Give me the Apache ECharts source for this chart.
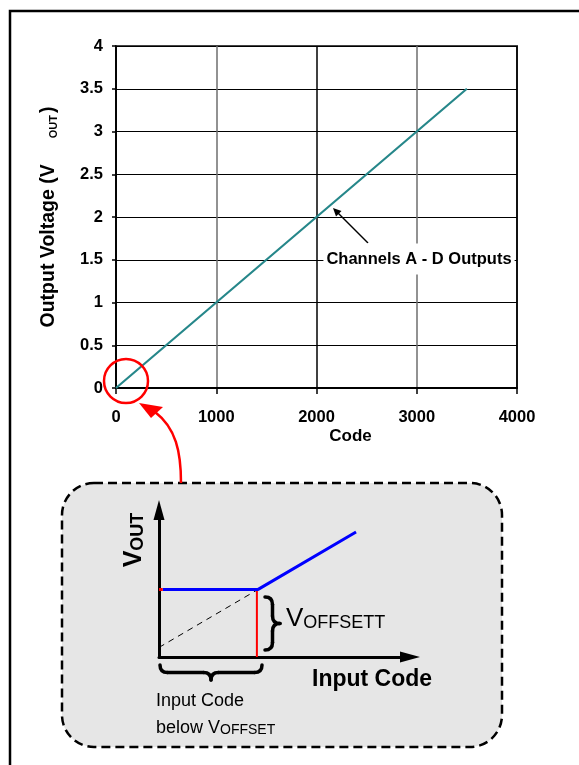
<!DOCTYPE html>
<html>
<head>
<meta charset="utf-8">
<script src="https://cdn.jsdelivr.net/npm/echarts@6/dist/echarts.min.js"></script>
<style>
  html, body { margin: 0; padding: 0; background: #fff; }
  #chart { width: 579px; height: 765px; }
</style>
</head>
<body>
<div id="chart"></div>
<script>
// main chart: DAC output voltage vs code
var codes = [0, 500, 1000, 1500, 2000, 2500, 3000, 3500];
var volts = [0, 0.5, 1.0, 1.5, 2.0, 2.5, 3.0, 3.5];
var codeTicks = [0, 1000, 2000, 3000, 4000];
var voltTicks = [0, 0.5, 1, 1.5, 2, 2.5, 3, 3.5, 4];

// inset sketch (arbitrary units 0..10)
var outX = [0.15, 3.95, 7.85];
var outY = [4.6, 4.6, 8.5];
var idealX = [0, 3.95];
var idealY = [0.65, 4.6];
var offsetX = [3.9, 3.9];
var offsetY = [0, 4.5];
var markX = [0, 0.15];
var markY = [4.6, 4.6];

var FONT = '"Liberation Sans", Arial, sans-serif';

function pairs(xs, ys) {
  return xs.map(function(x, i) { return [x, ys[i]]; });
}

var braceStyle = { fill: 'none', stroke: '#000', lineWidth: 3.5, lineCap: 'round' };

function quad(x1, y1, cx, cy, x2, y2) {
  return { type: 'bezierCurve', silent: true, z: 100,
    shape: { x1: x1, y1: y1, cpx1: cx, cpy1: cy, x2: x2, y2: y2 }, style: braceStyle };
}
function seg(x1, y1, x2, y2) {
  return { type: 'line', silent: true, z: 100,
    shape: { x1: x1, y1: y1, x2: x2, y2: y2 }, style: braceStyle };
}

// curly brace lying flat, tip pointing down
function hBrace(x0, x1, y0, h) {
  var xm = (x0 + x1) / 2, ym = y0 + h / 2, q = h / 2;
  return [
    quad(x0, y0, x0, ym, x0 + q, ym),
    seg(x0 + q, ym, xm - q, ym),
    quad(xm - q, ym, xm, ym, xm, y0 + h),
    quad(xm, y0 + h, xm, ym, xm + q, ym),
    seg(xm + q, ym, x1 - q, ym),
    quad(x1 - q, ym, x1, ym, x1, y0)
  ];
}

// curly brace standing up, tip pointing right
function vBrace(y0, y1, x0, w) {
  var xm = x0 + w / 2, ym = (y0 + y1) / 2, q = w / 2;
  return [
    quad(x0, y0, xm, y0, xm, y0 + q),
    seg(xm, y0 + q, xm, ym - q),
    quad(xm, ym - q, xm, ym, x0 + w, ym),
    quad(x0 + w, ym, xm, ym, xm, ym + q),
    seg(xm, ym + q, xm, y1 - q),
    quad(xm, y1 - q, xm, y1, x0, y1)
  ];
}

var chart = echarts.init(document.getElementById('chart'));

var boldLabel = { color: '#000', fontWeight: 'bold', fontSize: 16.5, fontFamily: FONT,
  formatter: function(v) { return String(v); } };

var graphics = [
  // page frame
  { type: 'rect', silent: true, z: -20, shape: { x: 10, y: 11, width: 600, height: 800 },
    style: { fill: 'none', stroke: '#000', lineWidth: 2.5 } },
  // dashed inset box
  { type: 'rect', silent: true, z: -10, shape: { x: 62, y: 483, width: 440, height: 264, r: 32 },
    style: { fill: '#e6e6e6', stroke: '#000', lineWidth: 2.5, lineDash: [9, 5] } },
  // red circle + curved arrow
  { type: 'circle', silent: true, z: 100, shape: { cx: 126, cy: 381, r: 22 },
    style: { fill: 'none', stroke: '#ff0000', lineWidth: 2.5 } },
  { type: 'bezierCurve', silent: true, z: 100,
    shape: { x1: 181, y1: 483, cpx1: 181, cpy1: 452, cpx2: 176, cpy2: 428, x2: 155, y2: 412 },
    style: { fill: 'none', stroke: '#ff0000', lineWidth: 2.5 } },
  { type: 'polygon', silent: true, z: 100, shape: { points: [[139, 403], [163, 407], [151, 418]] },
    style: { fill: '#ff0000' } },
  // callout
  { type: 'line', silent: true, z: 100, shape: { x1: 368, y1: 243, x2: 337, y2: 212 },
    style: { stroke: '#000', lineWidth: 1.5 } },
  { type: 'polygon', silent: true, z: 100, shape: { points: [[333, 208], [341.5, 211], [336, 216.5]] },
    style: { fill: '#000' } },
  { type: 'text', silent: true, z: 100, x: 419, y: 259,
    style: { text: 'Channels A - D Outputs', fill: '#000', font: 'bold 16.5px ' + FONT,
      align: 'center', verticalAlign: 'middle', backgroundColor: '#fff', padding: [7, 3] } },
  // inset labels
  { type: 'text', silent: true, z: 100, x: 132, y: 540, rotation: Math.PI / 2,
    style: { text: '{v|V}{s|OUT}', align: 'center', verticalAlign: 'middle',
      rich: {
        v: { fill: '#000', fontWeight: 'bold', fontSize: 25, fontFamily: FONT, lineHeight: 30, verticalAlign: 'bottom' },
        s: { fill: '#000', fontWeight: 'bold', fontSize: 18, fontFamily: FONT, lineHeight: 18, verticalAlign: 'bottom' }
      } } },
  { type: 'text', silent: true, z: 100, x: 286, y: 632,
    style: { text: '{v|V}{s|OFFSETT}', align: 'left', verticalAlign: 'bottom',
      rich: {
        v: { fill: '#000', fontSize: 26, fontFamily: FONT, lineHeight: 32, verticalAlign: 'bottom' },
        s: { fill: '#000', fontSize: 18, fontFamily: FONT, lineHeight: 18, verticalAlign: 'bottom' }
      } } },
  { type: 'text', silent: true, z: 100, x: 312, y: 694,
    style: { text: 'Input Code', fill: '#000', font: 'bold 23px ' + FONT, lineHeight: 28,
      align: 'left', verticalAlign: 'bottom' } },
  { type: 'text', silent: true, z: 100, x: 156, y: 712,
    style: { text: 'Input Code', fill: '#000', font: '18px ' + FONT, lineHeight: 22,
      align: 'left', verticalAlign: 'bottom' } },
  { type: 'text', silent: true, z: 100, x: 156, y: 737,
    style: { text: '{b|below V}{s|OFFSET}', align: 'left', verticalAlign: 'bottom',
      rich: {
        b: { fill: '#000', fontSize: 18, fontFamily: FONT, lineHeight: 22, verticalAlign: 'bottom' },
        s: { fill: '#000', fontSize: 14, fontFamily: FONT, lineHeight: 14, verticalAlign: 'bottom' }
      } } }
].concat(hBrace(160, 262, 665, 15), vBrace(597, 650, 265, 15));

var option = {
  animation: false,
  backgroundColor: '#fff',
  grid: [
    { left: 116, top: 46, width: 401, height: 342, show: true, borderColor: '#444', borderWidth: 2 },
    { left: 159, top: 510, width: 251, height: 147 }
  ],
  xAxis: [
    {
      type: 'value', gridIndex: 0,
      min: codeTicks[0], max: codeTicks[codeTicks.length - 1], interval: codeTicks[1] - codeTicks[0],
      axisLine: { lineStyle: { color: '#000', width: 2 } },
      axisTick: { show: true, length: 6, lineStyle: { color: '#000', width: 1.5 } },
      axisLabel: Object.assign({ margin: 21 }, boldLabel),
      splitLine: { show: true, lineStyle: { color: ['#000', '#6e6e6e'], width: 1.5 } },
      name: 'Code', nameLocation: 'middle', nameGap: 40,
      nameTextStyle: { color: '#000', fontWeight: 'bold', fontSize: 17, fontFamily: FONT, padding: [0, 0, 0, 68] }
    },
    {
      type: 'value', gridIndex: 1, min: 0, max: 10,
      axisLine: { symbol: ['none', 'triangle'], symbolSize: [11, 20], lineStyle: { color: '#000', width: 3 } },
      axisTick: { show: false }, axisLabel: { show: false }, splitLine: { show: false }
    }
  ],
  yAxis: [
    {
      type: 'value', gridIndex: 0,
      min: voltTicks[0], max: voltTicks[voltTicks.length - 1], interval: voltTicks[1] - voltTicks[0],
      axisLine: { lineStyle: { color: '#000', width: 1.5 } },
      axisTick: { show: true, length: 4, lineStyle: { color: '#000', width: 1.5 } },
      axisLabel: Object.assign({ margin: 13 }, boldLabel),
      splitLine: { show: true, lineStyle: { color: '#000', width: 1 } },
      name: '{a|Output Voltage (V}{s|OUT}{a|)}', nameLocation: 'middle', nameGap: 57,
      nameTextStyle: {
        rich: {
          a: { color: '#000', fontWeight: 'bold', fontSize: 19.5, fontFamily: FONT, lineHeight: 24, verticalAlign: 'bottom' },
          s: { color: '#000', fontWeight: 'bold', fontSize: 11, fontFamily: FONT, lineHeight: 11, verticalAlign: 'bottom', padding: [0, 2, 0, 26] }
        }
      }
    },
    {
      type: 'value', gridIndex: 1, min: 0, max: 10,
      axisLine: { onZero: false, symbol: ['none', 'triangle'], symbolSize: [11, 20], lineStyle: { color: '#000', width: 3 } },
      axisTick: { show: false }, axisLabel: { show: false }, splitLine: { show: false }
    }
  ],
  series: [
    {
      name: 'Channels A - D', type: 'line', xAxisIndex: 0, yAxisIndex: 0,
      data: pairs(codes, volts), symbol: 'none',
      lineStyle: { color: '#26878a', width: 2.2 }
    },
    {
      type: 'line', xAxisIndex: 1, yAxisIndex: 1, data: pairs(idealX, idealY), symbol: 'none',
      lineStyle: { color: '#000', width: 1, type: [6, 5] }
    },
    {
      type: 'line', xAxisIndex: 1, yAxisIndex: 1, data: pairs(offsetX, offsetY), symbol: 'none',
      lineStyle: { color: '#ff0000', width: 2 }
    },
    {
      type: 'line', xAxisIndex: 1, yAxisIndex: 1, data: pairs(outX, outY), symbol: 'none',
      lineStyle: { color: '#0000ff', width: 3 }
    },
    {
      type: 'line', xAxisIndex: 1, yAxisIndex: 1, data: pairs(markX, markY), symbol: 'none',
      lineStyle: { color: '#ff0000', width: 3 }, z: 5
    }
  ],
  graphic: graphics
};

chart.setOption(option);
</script>
</body>
</html>
